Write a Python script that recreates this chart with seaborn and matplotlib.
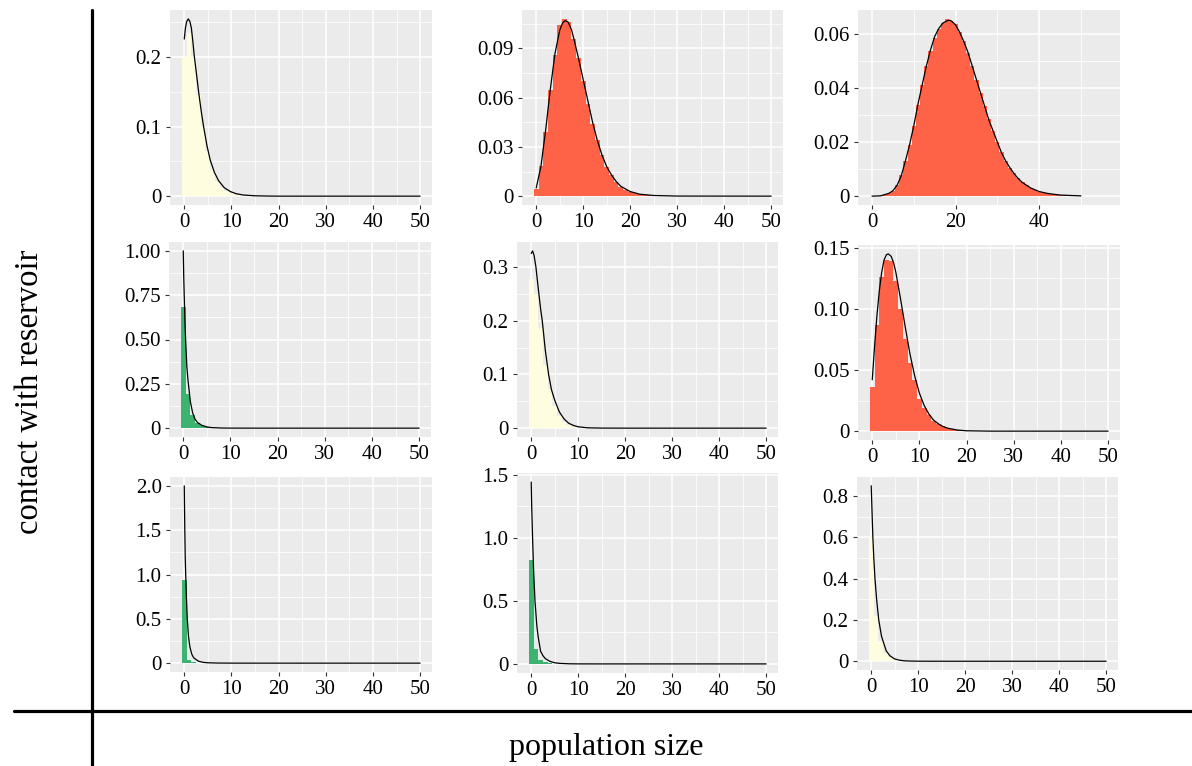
import numpy as np
import matplotlib
matplotlib.use('Agg')
import matplotlib.pyplot as plt
from matplotlib.lines import Line2D
from matplotlib.ticker import FixedLocator
import seaborn as sns

# ================= data =================
# bar heights for population sizes 0, 1, 2, ...
bars_r1c1 = [0.200, 0.235, 0.200, 0.145, 0.100, 0.065, 0.038, 0.022, 0.012, 0.007,
             0.004, 0.002, 0.001, 0.0006, 0.0004, 0.0003, 0.0003, 0.0002, 0.0002, 0.0001]
curve_r1c1_x = [0, 0.25, 0.5, 0.86, 1.2, 1.5, 1.8, 2.1, 2.6, 3.1, 3.6, 4.1, 4.8, 5.5, 6.4,
                7.3, 8.5, 9.8, 11, 12.5, 15, 18, 20, 50]
curve_r1c1_y = [0.226, 0.242, 0.251, 0.255, 0.251, 0.242, 0.224, 0.203, 0.175, 0.147,
                0.122, 0.1, 0.073, 0.052, 0.034, 0.022, 0.012, 0.0065, 0.0035, 0.0016,
                0.0005, 0.0001, 0.0, 0.0]

bars_r1c2 = [0.0043, 0.0186, 0.039, 0.0645, 0.086, 0.104, 0.108, 0.106, 0.0955, 0.084,
             0.070, 0.056, 0.044, 0.034, 0.025, 0.018, 0.0129, 0.0088, 0.0057, 0.0037,
             0.0027, 0.0017, 0.001, 0.0007, 0.0004, 0.0002, 0.0001]
curve_r1c2_x = [0, 1, 2, 3, 4, 5, 5.6, 6.2, 6.8, 7.5, 8, 9, 10, 11, 12, 13, 14, 15, 16, 17,
                18, 20, 22, 25, 30, 50]
curve_r1c2_y = [0.005, 0.018, 0.04, 0.065, 0.087, 0.101, 0.1055, 0.107, 0.106, 0.1015,
                0.096, 0.084, 0.071, 0.058, 0.045, 0.034, 0.025, 0.018, 0.013, 0.009,
                0.006, 0.0028, 0.0012, 0.0004, 0.00005, 0.0]

bars_r1c3 = [0.00005, 0.00005, 0.0001, 0.0004, 0.001, 0.002, 0.004, 0.0078, 0.0128, 0.019,
             0.026, 0.0335, 0.041, 0.048, 0.0535, 0.0585, 0.0618, 0.064, 0.0655, 0.0648,
             0.0635, 0.0605, 0.0572, 0.053, 0.0482, 0.043, 0.038, 0.0332, 0.0284, 0.024,
             0.020, 0.0163, 0.013, 0.0105, 0.0084, 0.0066, 0.0052, 0.004, 0.003, 0.0023,
             0.0017, 0.0013, 0.001, 0.0007, 0.0005, 0.0004, 0.0003, 0.0002, 0.00015, 0.0001,
             0.0001, 0.0001, 0.0001, 0.0001, 0.0001, 0.0001, 0.0001]
curve_r1c3_x = [0, 2, 4, 5, 6, 7, 8, 9, 10, 11, 12, 13, 14, 15, 16, 17, 18, 18.6, 19, 20,
                21, 22, 23, 24, 25, 26, 27, 28, 29, 30, 31, 32, 33, 34, 35, 36, 38, 40,
                42, 45, 50]
curve_r1c3_y = [0.0, 0.0001, 0.001, 0.002, 0.004, 0.0075, 0.013, 0.019, 0.026, 0.034,
                0.041, 0.048, 0.054, 0.059, 0.062, 0.064, 0.0648, 0.065, 0.0647, 0.0633,
                0.0605, 0.057, 0.053, 0.048, 0.043, 0.038, 0.033, 0.028, 0.024, 0.020,
                0.016, 0.013, 0.0105, 0.0083, 0.0065, 0.005, 0.003, 0.0017, 0.001,
                0.0004, 0.0001]

bars_r2c1 = [0.684, 0.19, 0.072, 0.03, 0.015, 0.007, 0.003, 0.0015, 0.0008, 0.0005,
             0.0003, 0.0002, 0.0002, 0.0001, 0.0001, 0.0001]
curve_r2c1_x = [0, 0.1, 0.2, 0.35, 0.5, 0.75, 1.0, 1.5, 2, 2.5, 3, 4, 5, 6, 8, 10, 15, 50]
curve_r2c1_y = [1.0, 0.85, 0.75, 0.6, 0.5, 0.35, 0.27, 0.15, 0.085, 0.05, 0.032, 0.015,
                0.007, 0.003, 0.0008, 0.0002, 0.0, 0.0]

bars_r2c2 = [0.278, 0.25, 0.186, 0.117, 0.073, 0.042, 0.022, 0.012, 0.006, 0.003,
             0.0015, 0.0007, 0.0003, 0.0002, 0.0001]
curve_r2c2_x = [0, 0.3, 0.6, 1, 1.5, 2, 2.35, 3, 3.7, 4.3, 5, 6, 7, 8, 9, 10, 12, 15, 20, 50]
curve_r2c2_y = [0.325, 0.33, 0.322, 0.3, 0.26, 0.222, 0.2, 0.145, 0.1, 0.072, 0.052, 0.03,
                0.017, 0.009, 0.005, 0.0025, 0.0006, 0.0001, 0.0, 0.0]

bars_r2c3 = [0.0365, 0.0865, 0.126, 0.1396, 0.139, 0.123, 0.0995, 0.075, 0.056, 0.0415,
             0.026, 0.019, 0.013, 0.0087, 0.006, 0.004, 0.0025, 0.0015, 0.001, 0.0006,
             0.0003]
curve_r2c3_x = [0, 0.5, 1, 1.5, 2, 2.5, 3, 3.4, 4, 4.5, 5, 6, 7, 8, 9, 10, 11, 12, 13, 14,
                15, 16, 18, 20, 25, 50]
curve_r2c3_y = [0.042, 0.07, 0.095, 0.115, 0.13, 0.14, 0.1443, 0.145, 0.143, 0.138, 0.13,
                0.108, 0.085, 0.063, 0.045, 0.031, 0.021, 0.014, 0.009, 0.006, 0.0038,
                0.0024, 0.0009, 0.0003, 0.0, 0.0]

bars_r3c1 = [0.943, 0.038, 0.01, 0.004, 0.002, 0.001, 0.0005, 0.0003]
curve_r3c1_x = [0, 0.1, 0.2, 0.3, 0.45, 0.64, 0.9, 1.2, 1.6, 2, 3, 4, 5, 7, 10, 15, 50]
curve_r3c1_y = [2.0, 1.55, 1.2, 1.0, 0.75, 0.5, 0.3, 0.18, 0.1, 0.06, 0.022, 0.009, 0.004,
                0.001, 0.0002, 0.0, 0.0]

bars_r3c2 = [0.822, 0.117, 0.033, 0.014, 0.006, 0.003, 0.0015, 0.0008]
curve_r3c2_x = [0, 0.1, 0.29, 0.5, 0.8, 1.2, 1.5, 2, 2.5, 3, 4, 5, 6, 8, 10, 15, 50]
curve_r3c2_y = [1.44, 1.25, 1.0, 0.75, 0.5, 0.3, 0.21, 0.1, 0.065, 0.042, 0.02, 0.009,
                0.0045, 0.001, 0.0002, 0.0, 0.0]

bars_r3c3 = [0.606, 0.219, 0.093, 0.04, 0.019, 0.009, 0.004, 0.002, 0.001]
curve_r3c3_x = [0, 0.15, 0.35, 0.55, 0.8, 1.15, 1.6, 2.2, 3.2, 4, 5, 6, 7, 8, 10, 15, 50]
curve_r3c3_y = [0.85, 0.74, 0.6, 0.5, 0.4, 0.3, 0.2, 0.12, 0.05, 0.026, 0.011, 0.005,
                0.0022, 0.001, 0.0002, 0.0, 0.0]

y_ticks_r1c1 = [0, 0.1, 0.2];            y_labels_r1c1 = ['0', '0.1', '0.2']
y_ticks_r1c2 = [0, 0.03, 0.06, 0.09];    y_labels_r1c2 = ['0', '0.03', '0.06', '0.09']
y_ticks_r1c3 = [0, 0.02, 0.04, 0.06];    y_labels_r1c3 = ['0', '0.02', '0.04', '0.06']
y_ticks_r2c1 = [0, 0.25, 0.5, 0.75, 1.0]; y_labels_r2c1 = ['0', '0.25', '0.50', '0.75', '1.00']
y_ticks_r2c2 = [0, 0.1, 0.2, 0.3];       y_labels_r2c2 = ['0', '0.1', '0.2', '0.3']
y_ticks_r2c3 = [0, 0.05, 0.10, 0.15];    y_labels_r2c3 = ['0', '0.05', '0.10', '0.15']
y_ticks_r3c1 = [0, 0.5, 1.0, 1.5, 2.0];  y_labels_r3c1 = ['0', '0.5', '1.0', '1.5', '2.0']
y_ticks_r3c2 = [0, 0.5, 1.0, 1.5];       y_labels_r3c2 = ['0', '0.5', '1.0', '1.5']
y_ticks_r3c3 = [0, 0.2, 0.4, 0.6, 0.8];  y_labels_r3c3 = ['0', '0.2', '0.4', '0.6', '0.8']

x_ticks_default = [0, 10, 20, 30, 40, 50]
x_ticks_wide = [0, 20, 40]

YELLOW = '#FFFDE0'
RED = '#FF6347'
GREEN = '#3CB371'

# ================= style =================
sns.set_theme(style='white')
plt.rcParams['font.family'] = ['Liberation Serif', 'DejaVu Serif']
plt.rcParams['axes.facecolor'] = '#EBEBEB'
plt.rcParams['text.color'] = 'black'

W, H = 1192, 766
fig = plt.figure(figsize=(W / 100, H / 100), dpi=100)

# panel rectangles in pixels: left, top, right, bottom
panels = [
    ((170, 10, 432, 205), bars_r1c1, curve_r1c1_x, curve_r1c1_y, YELLOW, y_ticks_r1c1, y_labels_r1c1, x_ticks_default),
    ((522, 10, 783, 205), bars_r1c2, curve_r1c2_x, curve_r1c2_y, RED, y_ticks_r1c2, y_labels_r1c2, x_ticks_default),
    ((858, 10, 1120, 205), bars_r1c3, curve_r1c3_x, curve_r1c3_y, RED, y_ticks_r1c3, y_labels_r1c3, x_ticks_wide),
    ((169, 242, 431, 437), bars_r2c1, curve_r2c1_x, curve_r2c1_y, GREEN, y_ticks_r2c1, y_labels_r2c1, x_ticks_default),
    ((517, 242, 778, 437), bars_r2c2, curve_r2c2_x, curve_r2c2_y, YELLOW, y_ticks_r2c2, y_labels_r2c2, x_ticks_default),
    ((858, 245, 1120, 440), bars_r2c3, curve_r2c3_x, curve_r2c3_y, RED, y_ticks_r2c3, y_labels_r2c3, x_ticks_default),
    ((170, 477, 432, 672), bars_r3c1, curve_r3c1_x, curve_r3c1_y, GREEN, y_ticks_r3c1, y_labels_r3c1, x_ticks_default),
    ((517, 473, 778, 673), bars_r3c2, curve_r3c2_x, curve_r3c2_y, GREEN, y_ticks_r3c2, y_labels_r3c2, x_ticks_default),
    ((857, 477, 1118, 670), bars_r3c3, curve_r3c3_x, curve_r3c3_y, YELLOW, y_ticks_r3c3, y_labels_r3c3, x_ticks_default),
]


def minor_between(ticks):
    return [(a + b) / 2 for a, b in zip(ticks[:-1], ticks[1:])]


for (l, t, r, b), bars, cx, cy, col, yt, yl, xt in panels:
    ax = fig.add_axes([l / W, 1 - b / H, (r - l) / W, (b - t) / H])
    xs = np.arange(len(bars))
    sns.histplot(x=xs, weights=bars, discrete=True, color=col, alpha=1,
                 linewidth=0, ax=ax, zorder=2)
    sns.lineplot(x=cx, y=cy, color='black', linewidth=0.9, ax=ax, zorder=3)

    # ggplot-like 5% expansion
    xmin, xmax = -0.5, max(len(bars) - 0.5, max(cx))
    xr = xmax - xmin
    ax.set_xlim(xmin - 0.05 * xr, xmax + 0.05 * xr)
    ymax = max(max(bars), max(cy))
    ax.set_ylim(-0.05 * ymax, ymax * 1.05)

    ax.set_xticks(xt)
    ax.set_xticklabels([str(v) for v in xt])
    ax.set_yticks(yt)
    ax.set_yticklabels(yl)
    x_minor = minor_between(xt) + ([xt[-1] + (xt[1] - xt[0]) / 2] if xt is x_ticks_wide else [])
    ax.xaxis.set_minor_locator(FixedLocator(x_minor))
    ax.yaxis.set_minor_locator(FixedLocator(minor_between(yt) + [yt[-1] + (yt[1] - yt[0]) / 2]))
    ax.grid(True, which='major', color='white', linewidth=1.1, zorder=0)
    ax.grid(True, which='minor', color='white', linewidth=0.55, zorder=0)
    ax.set_axisbelow(True)
    ax.tick_params(which='major', length=3, width=0.8, color='#333333',
                   labelsize=15, labelcolor='black', pad=3, bottom=True, left=True)
    ax.tick_params(which='minor', length=0)
    ax.set_xlabel('')
    ax.set_ylabel('')
    for s in ax.spines.values():
        s.set_visible(False)

# big frame lines and axis titles
fig.add_artist(Line2D([92 / W, 92 / W], [0, 1 - 10 / H], color='black', linewidth=2.3))
fig.add_artist(Line2D([14 / W, 1], [1 - 711 / H, 1 - 711 / H], color='black', linewidth=2.3))
fig.text(30 / W, 1 - 392 / H, 'contact with reservoir', rotation=90, ha='center',
         va='center', fontsize=23.5, color='black')
fig.text(606 / W, 1 - 748 / H, 'population size', ha='center', va='center',
         fontsize=23, color='black')

fig.savefig('out.png', dpi=100)
